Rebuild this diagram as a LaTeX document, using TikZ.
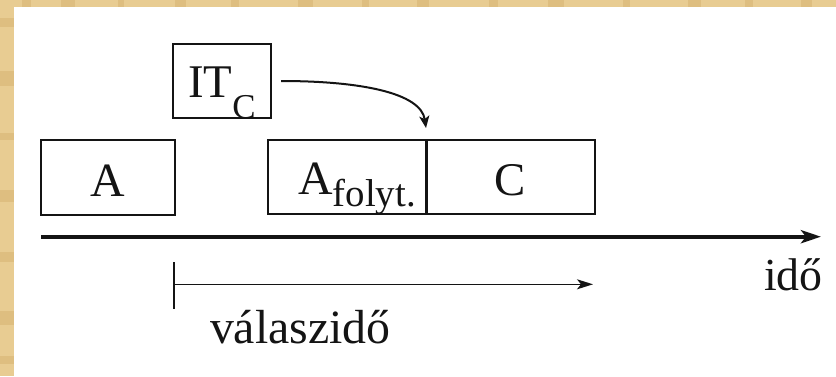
\documentclass[tikz,border=0pt]{standalone}
\usepackage{fontspec}
\setmainfont{Liberation Serif}
\usetikzlibrary{arrows.meta,calc}
\definecolor{parch}{RGB}{232,204,146}
\definecolor{parchdark}{RGB}{222,190,128}
\definecolor{ink}{RGB}{20,20,20}
\tikzset{
  box/.style={draw=ink, line width=2bp, inner sep=0pt, outer sep=0pt, text=ink},
  lbl/.style={inner sep=0pt, outer sep=0pt, text=ink, anchor=base west},
  axis/.style={draw=ink, line width=4bp, -{Stealth[length=20bp,width=13bp,inset=5bp]}},
  thin arrow/.style={draw=ink, line width=1.5bp, -{Stealth[length=16bp,width=10bp,inset=4bp]}},
  curve arrow/.style={draw=ink, line width=2bp, -{Stealth[length=12bp,width=10bp,inset=3bp]}},
}
\begin{document}
\begin{tikzpicture}[x=1bp,y=-1bp]
% background
\fill[white] (0,0) rectangle (836,376);
\fill[parch] (0,0) rectangle (836,7);
\fill[parch] (0,0) rectangle (14,376);
\foreach \xx/\ww in {22/9,61/14,118/6,175/11,231/8,298/15,362/7,417/12,489/9,548/16,623/7,688/13,745/8,801/11}{
  \fill[parchdark] (\xx,0) rectangle ++(\ww,7);
}
\foreach \yy/\hh in {18/9,71/15,133/7,190/12,252/10,311/14,356/8}{
  \fill[parchdark] (0,\yy) rectangle ++(14,\hh);
}
\useasboundingbox (0,0) rectangle (836,376);

% boxes
\node[box, minimum width=134bp, minimum height=75bp, text height=37bp, text depth=0pt,
      font=\fontsize{48}{48}\selectfont] (a) at (108,177.5) {A};
\node[box, minimum width=158bp, minimum height=74bp, text height=34.6bp, text depth=0pt,
      font=\fontsize{48}{48}\selectfont] (af) at (347,177)
      {\hspace*{20bp}A\raisebox{-12bp}{\fontsize{39}{39}\selectfont folyt.}};
\node[box, minimum width=168.5bp, minimum height=74bp, text height=36bp, text depth=0pt,
      font=\fontsize{47}{47}\selectfont] (c) at (510.25,177) {C};
\draw[ink, line width=3bp] (af.north east) -- (af.south east);
\node[box, minimum width=98bp, minimum height=74bp, text height=32.6bp, text depth=0pt,
      font=\fontsize{47}{47}\selectfont] (itc) at (222,81)
      {IT\raisebox{-21bp}{\fontsize{35}{35}\selectfont C}};

% curved arrow
\coordinate (cs) at ($(itc.east)+(10,0)$);
\coordinate (ce) at ($(af.north east)+(0,-12)$);
\draw[curve arrow] (cs) .. controls ($(cs)+(80,0)$) and ($(ce)+(-5,-35)$) .. (ce);

% time axis
\coordinate (t0) at (41,236.7);
\coordinate (t1) at (821,236.7);
\draw[axis] (t0) -- (t1);
\node[lbl, font=\fontsize{46}{46}\selectfont] (ido) at (764,290) {idő};

% response time
\coordinate (r0) at (174,262);
\coordinate (r1) at (174,309);
\coordinate (rs) at (174,284.3);
\coordinate (re) at (593,284.3);
\draw[ink, line width=1.5bp] (r0) -- (r1);
\draw[thin arrow] (rs) -- (re);
\node[lbl, font=\fontsize{48}{48}\selectfont] (vt) at (210,343.3) {válaszidő};
\end{tikzpicture}
\end{document}
